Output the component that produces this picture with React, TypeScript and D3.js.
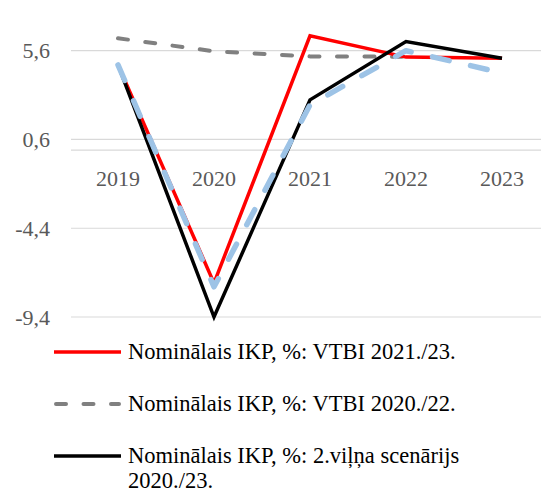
import React from "react";
import * as d3 from "d3";

const years = ["2019", "2020", "2021", "2022", "2023"];
const yTicks = [5.6, 0.6, -4.4, -9.4];
const redVals = [4.8, -7.49, 6.44, 5.24, 5.17];
const grayVals = [6.3, 5.57, 5.28, 5.26];
const blackVals = [4.8, -9.4, 2.83, 6.12, 5.17];
const blueVals = [4.8, -7.7, 2.55, 5.6, 4.35];
const legendLabels = [
  ["Nominālais IKP, %: VTBI 2021./23."],
  ["Nominālais IKP, %: VTBI 2020./22."],
  ["Nominālais IKP, %: 2.viļņa scenārijs", "2020./23."],
];

export default function App() {
  const W = 541;
  const H = 494;
  const x = d3.scaleBand<string>().domain(years).range([70, 550]);
  const y = d3.scaleLinear().domain([-9.4, 5.6]).range([317, 50.7]);
  const cx = (i: number) => (x(years[i]) as number) + x.bandwidth() / 2;
  const line = d3
    .line<number>()
    .x((_, i) => cx(i))
    .y((d) => y(d));

  const font = "'Liberation Serif', 'Times New Roman', serif";
  const legendStyles = [
    { stroke: "#ff0000", dash: undefined, cap: "butt" },
    { stroke: "#808080", dash: "10 17.5", cap: "round" },
    { stroke: "#000000", dash: undefined, cap: "butt" },
  ];
  const legendY = [352, 404, 456];

  return (
    <svg
      width={W}
      height={H}
      style={{ position: "absolute", left: 0, top: 0, background: "#fff" }}
      fontFamily={font}
    >
      {yTicks.map((t) => (
        <line key={"g" + t} x1={71} x2={W} y1={y(t)} y2={y(t)} stroke="#d9d9d9" strokeWidth={1.2} />
      ))}
      <line x1={71} x2={W} y1={y(0)} y2={y(0)} stroke="#d9d9d9" strokeWidth={1.2} />
      {yTicks.map((t) => (
        <text
          key={"t" + t}
          x={50}
          y={y(t)}
          dy="0.35em"
          textAnchor="end"
          fontSize={22}
          fill="#595959"
        >
          {String(t).replace(".", ",")}
        </text>
      ))}
      {years.map((yr, i) => (
        <text key={yr} x={cx(i)} y={185.5} textAnchor="middle" fontSize={22} fill="#595959">
          {yr}
        </text>
      ))}
      <path
        d={line(grayVals) || ""}
        fill="none"
        stroke="#808080"
        strokeWidth={4}
        strokeDasharray="10 17.5"
        strokeLinecap="round"
      />
      <path d={line(redVals) || ""} fill="none" stroke="#ff0000" strokeWidth={3.5} strokeLinejoin="miter" />
      <path d={line(blackVals) || ""} fill="none" stroke="#000000" strokeWidth={3.5} strokeLinejoin="miter" />
      <path
        d={line(blueVals) || ""}
        fill="none"
        stroke="#9dc3e6"
        strokeWidth={5.5}
        strokeDasharray="17 22"
        strokeLinecap="round"
        strokeLinejoin="round"
      />
      {legendLabels.map((lines, i) => (
        <g key={"l" + i}>
          <line
            x1={legendStyles[i].dash ? 56 : 54}
            x2={legendStyles[i].dash ? 119 : 121}
            y1={legendY[i]}
            y2={legendY[i]}
            stroke={legendStyles[i].stroke}
            strokeWidth={legendStyles[i].dash ? 4 : 3.5}
            strokeDasharray={legendStyles[i].dash}
            strokeLinecap={legendStyles[i].cap as any}
          />
          {lines.map((s, j) => (
            <text key={j} x={128} y={legendY[i] + 7.3 + j * 25} fontSize={22.5} fill="#000">
              {s}
            </text>
          ))}
        </g>
      ))}
    </svg>
  );
}
